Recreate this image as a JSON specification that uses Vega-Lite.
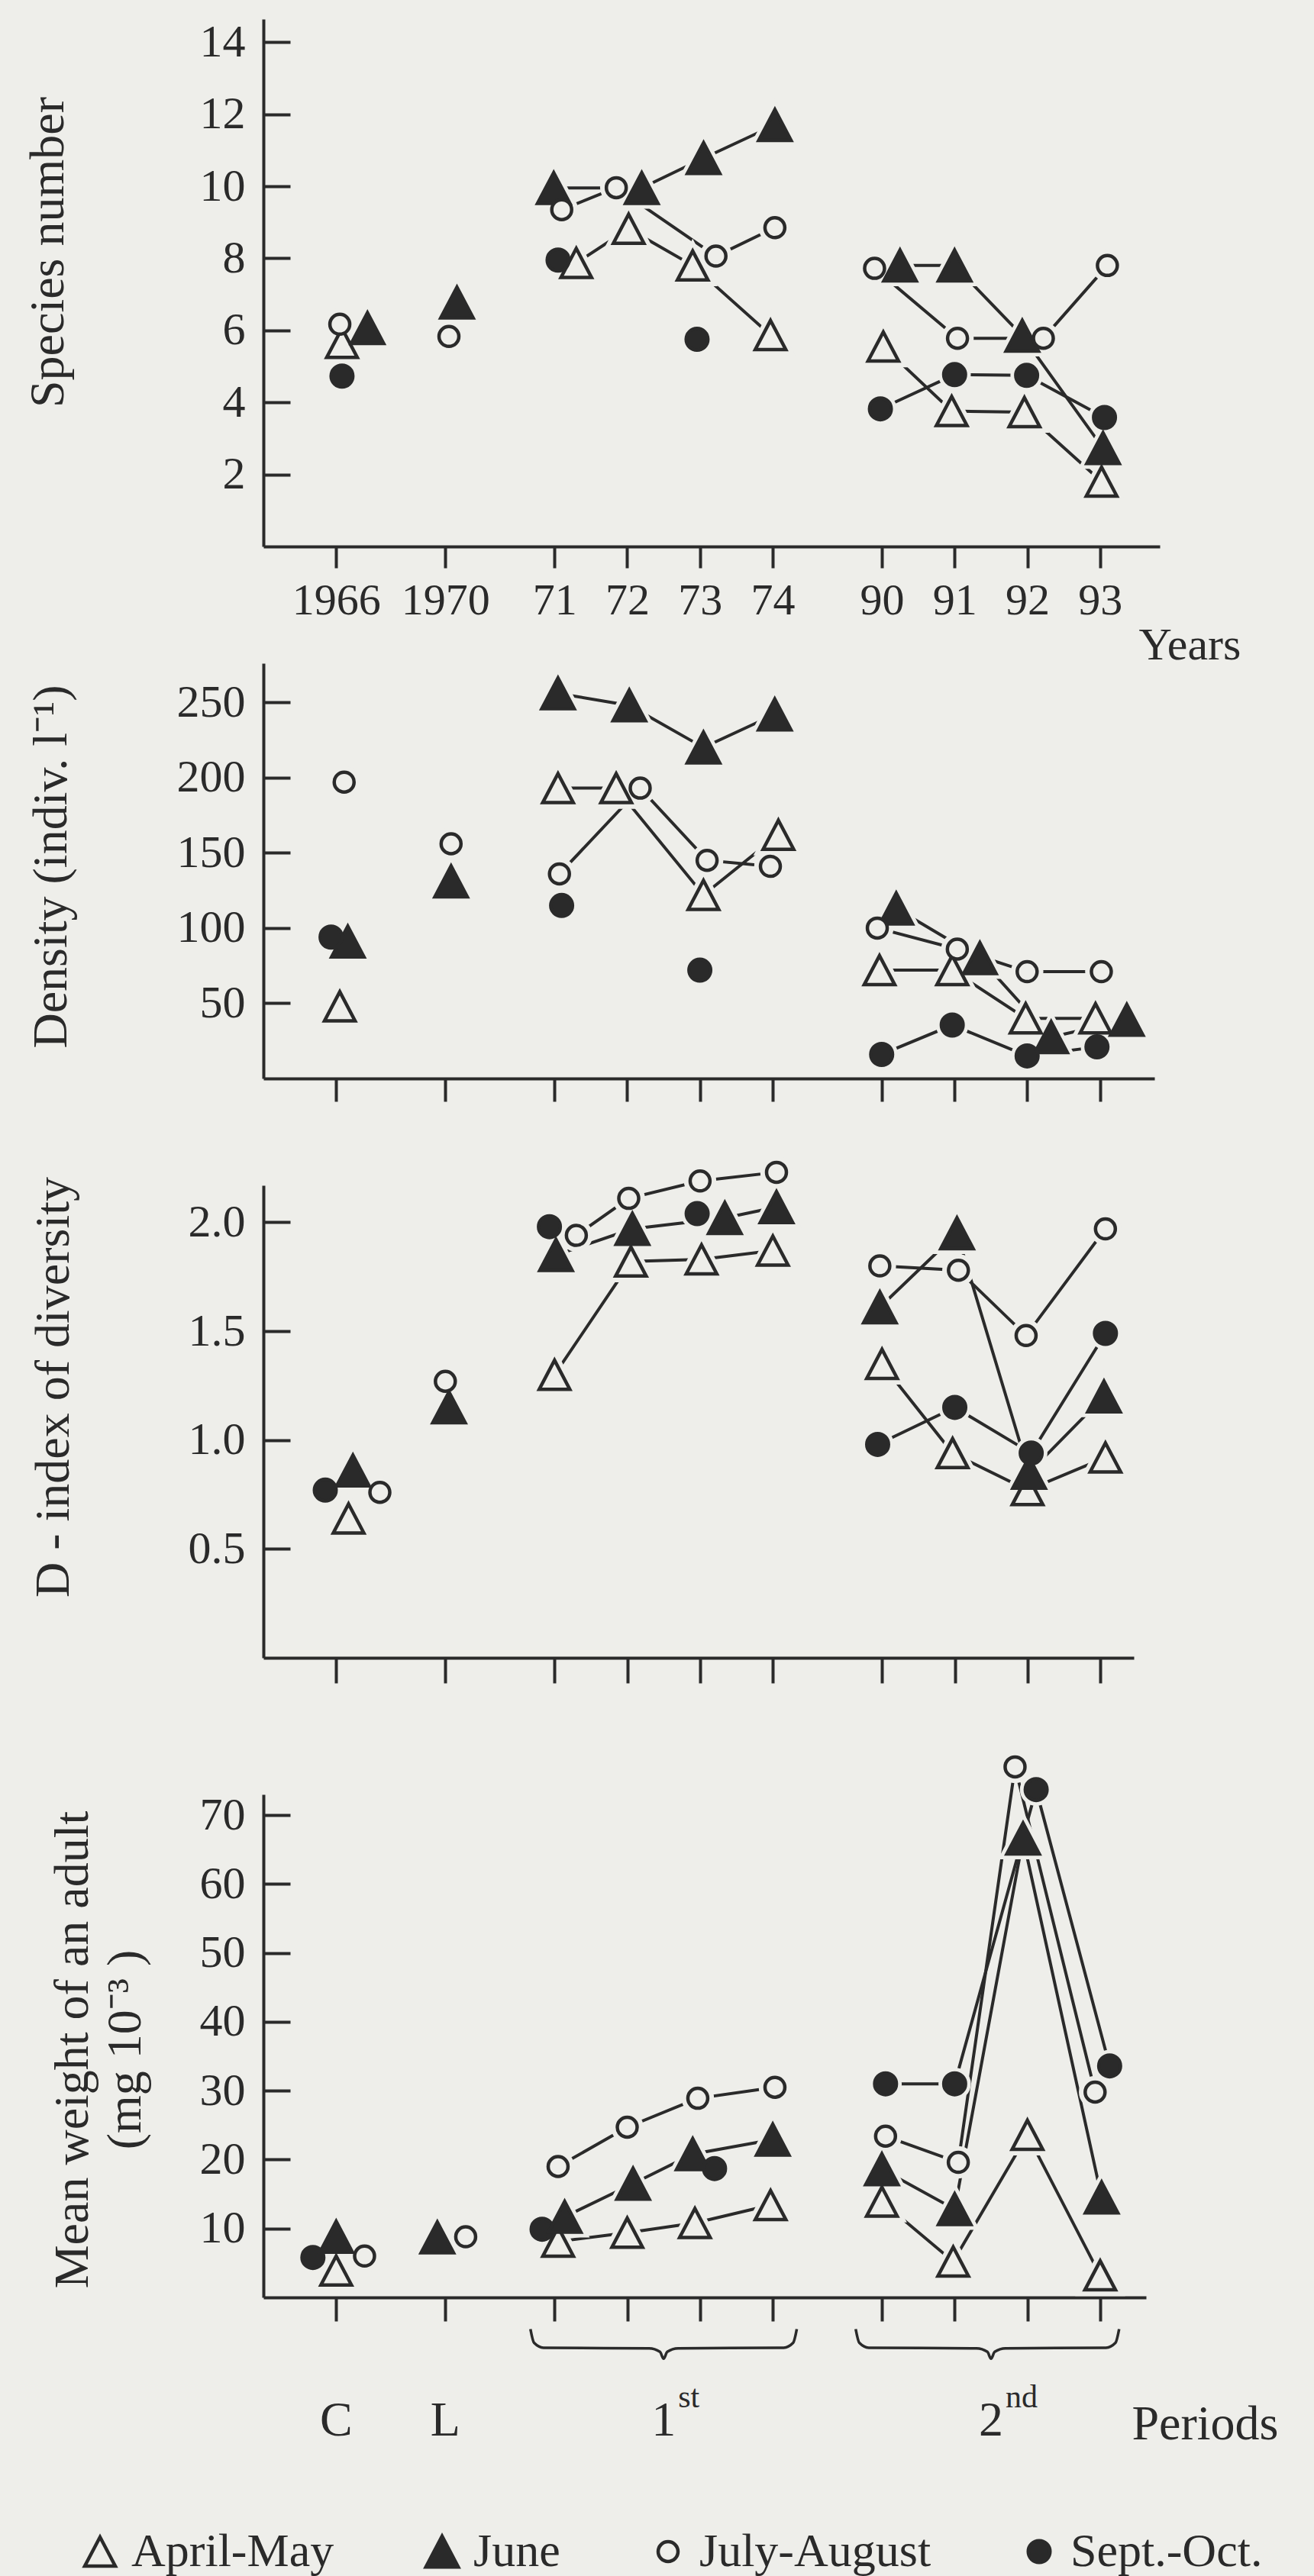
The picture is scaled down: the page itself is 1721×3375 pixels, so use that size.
{
  "$schema": "https://vega.github.io/schema/vega-lite/v6.json",
  "width": 1721,
  "height": 3375,
  "autosize": "none",
  "padding": 0,
  "background": "#eeeeea",
  "config": {
    "view": {"stroke": null},
    "font": "Liberation Serif",
    "axis": {
      "grid": false, "domainColor": "#2a2a2a", "domainWidth": 4, "tickColor": "#2a2a2a", "tickWidth": 4,
      "labelColor": "#2a2a2a", "labelFont": "Liberation Serif", "labelFontSize": 60,
      "titleFont": "Liberation Serif", "titleFontSize": 64, "titleFontWeight": "normal", "titleColor": "#2a2a2a",
      "labelOverlap": false, "labelFlush": false, "labelBound": false, "titleLimit": 0, "labelLimit": 0, "zindex": 1
    },
    "legend": {
      "labelFont": "Liberation Serif", "labelFontSize": 62, "labelColor": "#2a2a2a", "labelLimit": 0,
      "symbolStrokeColor": "#2a2a2a", "symbolStrokeWidth": 4.5, "labelOffset": 10, "columnPadding": 110, "padding": 0, "offset": 0
    }
  },
  "data": {"values": [
    {"k":1,"s":"April-May","g":"C","p":1.08,"v":5.65},
    {"k":1,"s":"June","g":"C","p":1.43,"v":6.06},
    {"k":1,"s":"July-August","g":"C","p":1.05,"v":6.17},
    {"k":1,"s":"Sept.-Oct.","g":"C","p":1.08,"v":4.73},
    {"k":1,"s":"June","g":"L","p":2.66,"v":6.77},
    {"k":1,"s":"July-August","g":"L","p":2.55,"v":5.83},
    {"k":1,"s":"April-May","g":"1","p":4.3,"v":7.87},
    {"k":1,"s":"June","g":"1","p":3.99,"v":9.95},
    {"k":1,"s":"July-August","g":"1","p":4.1,"v":9.35},
    {"k":1,"s":"Sept.-Oct.","g":"1a","p":4.05,"v":7.95},
    {"k":1,"s":"April-May","g":"1","p":5.02,"v":8.82},
    {"k":1,"s":"June","g":"1","p":5.2,"v":9.95},
    {"k":1,"s":"July-August","g":"1","p":4.85,"v":9.96},
    {"k":1,"s":"April-May","g":"1","p":5.9,"v":7.8},
    {"k":1,"s":"June","g":"1","p":6.05,"v":10.78},
    {"k":1,"s":"July-August","g":"1","p":6.22,"v":8.06},
    {"k":1,"s":"Sept.-Oct.","g":"1b","p":5.96,"v":5.75},
    {"k":1,"s":"April-May","g":"1","p":6.97,"v":5.87},
    {"k":1,"s":"June","g":"1","p":7.03,"v":11.7},
    {"k":1,"s":"July-August","g":"1","p":7.03,"v":8.85},
    {"k":1,"s":"April-May","g":"2","p":8.52,"v":5.55},
    {"k":1,"s":"June","g":"2","p":8.75,"v":7.8},
    {"k":1,"s":"July-August","g":"2","p":8.4,"v":7.72},
    {"k":1,"s":"Sept.-Oct.","g":"2","p":8.48,"v":3.82},
    {"k":1,"s":"April-May","g":"2","p":9.46,"v":3.76},
    {"k":1,"s":"June","g":"2","p":9.5,"v":7.8},
    {"k":1,"s":"July-August","g":"2","p":9.54,"v":5.78},
    {"k":1,"s":"Sept.-Oct.","g":"2","p":9.5,"v":4.77},
    {"k":1,"s":"April-May","g":"2","p":10.46,"v":3.73},
    {"k":1,"s":"June","g":"2","p":10.43,"v":5.85},
    {"k":1,"s":"July-August","g":"2","p":10.72,"v":5.78},
    {"k":1,"s":"Sept.-Oct.","g":"2","p":10.49,"v":4.75},
    {"k":1,"s":"April-May","g":"2","p":11.52,"v":1.8},
    {"k":1,"s":"June","g":"2","p":11.54,"v":2.73},
    {"k":1,"s":"July-August","g":"2","p":11.6,"v":7.8},
    {"k":1,"s":"Sept.-Oct.","g":"2","p":11.56,"v":3.58},

    {"k":2,"s":"April-May","g":"C","p":1.05,"v":48},
    {"k":2,"s":"June","g":"C","p":1.16,"v":91},
    {"k":2,"s":"July-August","g":"C","p":1.11,"v":197},
    {"k":2,"s":"Sept.-Oct.","g":"C","p":0.93,"v":94},
    {"k":2,"s":"June","g":"L","p":2.58,"v":131},
    {"k":2,"s":"July-August","g":"L","p":2.58,"v":156},
    {"k":2,"s":"April-May","g":"1","p":4.05,"v":193},
    {"k":2,"s":"June","g":"1","p":4.05,"v":256},
    {"k":2,"s":"July-August","g":"1","p":4.07,"v":136},
    {"k":2,"s":"Sept.-Oct.","g":"1a","p":4.1,"v":115},
    {"k":2,"s":"April-May","g":"1","p":4.85,"v":193},
    {"k":2,"s":"June","g":"1","p":5.03,"v":248},
    {"k":2,"s":"July-August","g":"1","p":5.18,"v":193},
    {"k":2,"s":"April-May","g":"1","p":6.05,"v":122},
    {"k":2,"s":"June","g":"1","p":6.05,"v":220},
    {"k":2,"s":"July-August","g":"1","p":6.1,"v":145},
    {"k":2,"s":"Sept.-Oct.","g":"1b","p":6.0,"v":72},
    {"k":2,"s":"April-May","g":"1","p":7.08,"v":162},
    {"k":2,"s":"June","g":"1","p":7.03,"v":242},
    {"k":2,"s":"July-August","g":"1","p":6.97,"v":141},
    {"k":2,"s":"April-May","g":"2","p":8.47,"v":72},
    {"k":2,"s":"June","g":"2","p":8.7,"v":113},
    {"k":2,"s":"July-August","g":"2","p":8.44,"v":100},
    {"k":2,"s":"Sept.-Oct.","g":"2","p":8.5,"v":16},
    {"k":2,"s":"April-May","g":"2","p":9.47,"v":72},
    {"k":2,"s":"June","g":"2","p":9.85,"v":80},
    {"k":2,"s":"July-August","g":"2","p":9.54,"v":86},
    {"k":2,"s":"Sept.-Oct.","g":"2","p":9.47,"v":35.5},
    {"k":2,"s":"April-May","g":"2","p":10.48,"v":40},
    {"k":2,"s":"June","g":"2","p":10.83,"v":27.5},
    {"k":2,"s":"July-August","g":"2","p":10.5,"v":71},
    {"k":2,"s":"Sept.-Oct.","g":"2","p":10.5,"v":15},
    {"k":2,"s":"April-May","g":"2","p":11.44,"v":40},
    {"k":2,"s":"June","g":"2","p":11.87,"v":39},
    {"k":2,"s":"July-August","g":"2","p":11.52,"v":71},
    {"k":2,"s":"Sept.-Oct.","g":"2","p":11.46,"v":21},

    {"k":3,"s":"April-May","g":"C","p":1.17,"v":0.64},
    {"k":3,"s":"June","g":"C","p":1.23,"v":0.86},
    {"k":3,"s":"July-August","g":"C","p":1.6,"v":0.76},
    {"k":3,"s":"Sept.-Oct.","g":"C","p":0.85,"v":0.77},
    {"k":3,"s":"June","g":"L","p":2.55,"v":1.15},
    {"k":3,"s":"July-August","g":"L","p":2.5,"v":1.27},
    {"k":3,"s":"April-May","g":"1","p":4.0,"v":1.3},
    {"k":3,"s":"June","g":"1","p":4.02,"v":1.85},
    {"k":3,"s":"July-August","g":"1","p":4.3,"v":1.94},
    {"k":3,"s":"Sept.-Oct.","g":"1a","p":3.93,"v":1.98},
    {"k":3,"s":"April-May","g":"1","p":5.05,"v":1.82},
    {"k":3,"s":"June","g":"1","p":5.07,"v":1.97},
    {"k":3,"s":"July-August","g":"1","p":5.02,"v":2.11},
    {"k":3,"s":"April-May","g":"1","p":6.02,"v":1.83},
    {"k":3,"s":"June","g":"1","p":6.34,"v":2.02},
    {"k":3,"s":"July-August","g":"1","p":6.0,"v":2.19},
    {"k":3,"s":"Sept.-Oct.","g":"1b","p":5.96,"v":2.04},
    {"k":3,"s":"April-May","g":"1","p":7.0,"v":1.87},
    {"k":3,"s":"June","g":"1","p":7.05,"v":2.07},
    {"k":3,"s":"July-August","g":"1","p":7.05,"v":2.23},
    {"k":3,"s":"April-May","g":"2","p":8.5,"v":1.35},
    {"k":3,"s":"June","g":"2","p":8.47,"v":1.61},
    {"k":3,"s":"July-August","g":"2","p":8.47,"v":1.8},
    {"k":3,"s":"Sept.-Oct.","g":"2","p":8.44,"v":0.98},
    {"k":3,"s":"April-May","g":"2","p":9.47,"v":0.94},
    {"k":3,"s":"June","g":"2","p":9.53,"v":1.95},
    {"k":3,"s":"July-August","g":"2","p":9.55,"v":1.78},
    {"k":3,"s":"Sept.-Oct.","g":"2","p":9.5,"v":1.15},
    {"k":3,"s":"April-May","g":"2","p":10.5,"v":0.77},
    {"k":3,"s":"June","g":"2","p":10.52,"v":0.85},
    {"k":3,"s":"July-August","g":"2","p":10.48,"v":1.48},
    {"k":3,"s":"Sept.-Oct.","g":"2","p":10.55,"v":0.94},
    {"k":3,"s":"April-May","g":"2","p":11.57,"v":0.92},
    {"k":3,"s":"June","g":"2","p":11.55,"v":1.2},
    {"k":3,"s":"July-August","g":"2","p":11.57,"v":1.97},
    {"k":3,"s":"Sept.-Oct.","g":"2","p":11.57,"v":1.49},

    {"k":4,"s":"Sept.-Oct.","g":"C","p":0.68,"v":5.8},
    {"k":4,"s":"June","g":"C","p":1.0,"v":8.8},
    {"k":4,"s":"April-May","g":"C","p":1.0,"v":3.9},
    {"k":4,"s":"July-August","g":"C","p":1.39,"v":6.0},
    {"k":4,"s":"June","g":"L","p":2.39,"v":8.7},
    {"k":4,"s":"July-August","g":"L","p":2.78,"v":8.8},
    {"k":4,"s":"Sept.-Oct.","g":"1a","p":3.83,"v":9.9},
    {"k":4,"s":"April-May","g":"1","p":4.05,"v":8.1},
    {"k":4,"s":"June","g":"1","p":4.14,"v":11.7},
    {"k":4,"s":"July-August","g":"1","p":4.05,"v":19},
    {"k":4,"s":"July-August","g":"1","p":5.0,"v":24.7},
    {"k":4,"s":"June","g":"1","p":5.08,"v":16.5},
    {"k":4,"s":"April-May","g":"1","p":5.0,"v":9.4},
    {"k":4,"s":"July-August","g":"1","p":5.97,"v":28.9},
    {"k":4,"s":"June","g":"1","p":5.9,"v":20.8},
    {"k":4,"s":"Sept.-Oct.","g":"1b","p":6.2,"v":18.7},
    {"k":4,"s":"April-May","g":"1","p":5.93,"v":10.8},
    {"k":4,"s":"July-August","g":"1","p":7.03,"v":30.5},
    {"k":4,"s":"June","g":"1","p":7.0,"v":22.9},
    {"k":4,"s":"April-May","g":"1","p":6.97,"v":13.4},
    {"k":4,"s":"Sept.-Oct.","g":"2","p":8.55,"v":31},
    {"k":4,"s":"July-August","g":"2","p":8.55,"v":23.4},
    {"k":4,"s":"June","g":"2","p":8.5,"v":18.6},
    {"k":4,"s":"April-May","g":"2","p":8.5,"v":13.9},
    {"k":4,"s":"Sept.-Oct.","g":"2","p":9.5,"v":31},
    {"k":4,"s":"July-August","g":"2","p":9.55,"v":19.6},
    {"k":4,"s":"June","g":"2","p":9.5,"v":12.8},
    {"k":4,"s":"April-May","g":"2","p":9.48,"v":5.2},
    {"k":4,"s":"July-August","g":"2","p":10.33,"v":77},
    {"k":4,"s":"Sept.-Oct.","g":"2","p":10.62,"v":73.7},
    {"k":4,"s":"June","g":"2","p":10.44,"v":66.6},
    {"k":4,"s":"April-May","g":"2","p":10.5,"v":23.6},
    {"k":4,"s":"Sept.-Oct.","g":"2","p":11.63,"v":33.6},
    {"k":4,"s":"July-August","g":"2","p":11.43,"v":29.8},
    {"k":4,"s":"June","g":"2","p":11.52,"v":14.5},
    {"k":4,"s":"April-May","g":"2","p":11.5,"v":3.2}
  ]},
  "resolve": {"scale": {"x": "independent", "y": "independent"}, "axis": {"x": "independent", "y": "independent"}},
  "layer": [
    {
      "transform": [{"filter": "datum.k == 1"}],
      "encoding": {
        "x": {"field": "p", "type": "quantitative",
          "scale": {"domain": [0, 12.32], "range": [345, 1519], "nice": false, "zero": false},
          "axis": {"orient": "bottom", "offset": -2659, "values": [1, 2.5, 4, 5, 6, 7, 8.5, 9.5, 10.5, 11.5],
            "labelExpr": "datum.value==1?'1966':datum.value==2.5?'1970':datum.value==4?'71':datum.value==5?'72':datum.value==6?'73':datum.value==7?'74':datum.value==8.5?'90':datum.value==9.5?'91':datum.value==10.5?'92':'93'",
            "tickSize": 28, "labelPadding": 14, "labelFontSize": 58,
            "title": "Years", "titleX": 1491, "titleY": 147, "titleAlign": "left", "titleBaseline": "alphabetic", "titleAngle": 0, "titleFontSize": 60}},
        "y": {"field": "v", "type": "quantitative",
          "scale": {"domain": [0, 14.64], "range": [716, 25], "nice": false, "zero": false},
          "axis": {"orient": "left", "offset": -345, "values": [2, 4, 6, 8, 10, 12, 14], "tickSize": -35, "labelPadding": 59,
            "title": "Species number", "titleX": -263, "titleY": 330, "titleAngle": 270, "titleAlign": "center", "titleBaseline": "alphabetic"}}
      },
      "layer": [
        {"mark": {"type": "line", "stroke": "#2a2a2a", "strokeWidth": 4}, "encoding": {"detail": [{"field": "s"}, {"field": "g"}]}},
        {"transform": [{"filter": "datum.s == 'April-May' || datum.s == 'June'"}],
         "mark": {"type": "point", "shape": "M0,-0.95L1,0.95L-1,0.95Z", "size": 1800, "filled": true, "fill": "#eeeeea", "stroke": "#eeeeea", "strokeWidth": 14, "opacity": 1}},
        {"transform": [{"filter": "datum.s == 'July-August' || datum.s == 'Sept.-Oct.'"}],
         "mark": {"type": "point", "shape": "circle", "size": 812, "filled": true, "fill": "#eeeeea", "stroke": "#eeeeea", "strokeWidth": 14, "opacity": 1}},
        {"mark": {"type": "point", "strokeWidth": 4.5, "opacity": 1, "fillOpacity": 1, "strokeOpacity": 1},
         "encoding": {
           "shape": {"field": "s", "type": "nominal", "title": null, "legend": {"orient": "none", "legendX": 100, "legendY": 3312, "direction": "horizontal", "columns": 4}, "scale": {"domain": ["April-May", "June", "July-August", "Sept.-Oct."], "range": ["M0,-0.95L1,0.95L-1,0.95Z", "M0,-0.95L1,0.95L-1,0.95Z", "circle", "circle"]}},
           "size": {"field": "s", "type": "nominal", "title": null, "legend": {"orient": "none", "legendX": 100, "legendY": 3312, "direction": "horizontal", "columns": 4}, "scale": {"type": "ordinal", "domain": ["April-May", "June", "July-August", "Sept.-Oct."], "range": [1600, 1800, 676, 812]}},
           "fill": {"field": "s", "type": "nominal", "title": null, "legend": {"orient": "none", "legendX": 100, "legendY": 3312, "direction": "horizontal", "columns": 4}, "scale": {"domain": ["April-May", "June", "July-August", "Sept.-Oct."], "range": ["#eeeeea", "#2a2a2a", "#eeeeea", "#2a2a2a"]}},
           "stroke": {"field": "s", "type": "nominal", "title": null, "legend": {"orient": "none", "legendX": 100, "legendY": 3312, "direction": "horizontal", "columns": 4}, "scale": {"domain": ["April-May", "June", "July-August", "Sept.-Oct."], "range": ["#2a2a2a", "#2a2a2a", "#2a2a2a", "#2a2a2a"]}}}}
      ]
    },
    {
      "transform": [{"filter": "datum.k == 2"}],
      "encoding": {
        "x": {"field": "p", "type": "quantitative",
          "scale": {"domain": [0, 12.25], "range": [345, 1512], "nice": false, "zero": false},
          "axis": {"orient": "bottom", "offset": -1962, "values": [1, 2.5, 4, 5, 6, 7, 8.5, 9.5, 10.5, 11.5], "labels": false, "tickSize": 30, "title": null}},
        "y": {"field": "v", "type": "quantitative",
          "scale": {"domain": [0, 276], "range": [1413, 869], "nice": false, "zero": false},
          "axis": {"orient": "left", "offset": -345, "values": [50, 100, 150, 200, 250], "tickSize": -35, "labelPadding": 59,
            "title": "Density (indiv. l⁻¹)", "titleX": -259, "titleY": 1135, "titleAngle": 270, "titleAlign": "center", "titleBaseline": "alphabetic"}}
      },
      "layer": [
        {"mark": {"type": "line", "stroke": "#2a2a2a", "strokeWidth": 4}, "encoding": {"detail": [{"field": "s"}, {"field": "g"}]}},
        {"transform": [{"filter": "datum.s == 'April-May' || datum.s == 'June'"}],
         "mark": {"type": "point", "shape": "M0,-0.95L1,0.95L-1,0.95Z", "size": 1800, "filled": true, "fill": "#eeeeea", "stroke": "#eeeeea", "strokeWidth": 14, "opacity": 1}},
        {"transform": [{"filter": "datum.s == 'July-August' || datum.s == 'Sept.-Oct.'"}],
         "mark": {"type": "point", "shape": "circle", "size": 812, "filled": true, "fill": "#eeeeea", "stroke": "#eeeeea", "strokeWidth": 14, "opacity": 1}},
        {"mark": {"type": "point", "strokeWidth": 4.5, "opacity": 1, "fillOpacity": 1, "strokeOpacity": 1},
         "encoding": {
           "shape": {"field": "s", "type": "nominal", "title": null, "legend": {"orient": "none", "legendX": 100, "legendY": 3312, "direction": "horizontal", "columns": 4}, "scale": {"domain": ["April-May", "June", "July-August", "Sept.-Oct."], "range": ["M0,-0.95L1,0.95L-1,0.95Z", "M0,-0.95L1,0.95L-1,0.95Z", "circle", "circle"]}},
           "size": {"field": "s", "type": "nominal", "title": null, "legend": {"orient": "none", "legendX": 100, "legendY": 3312, "direction": "horizontal", "columns": 4}, "scale": {"type": "ordinal", "domain": ["April-May", "June", "July-August", "Sept.-Oct."], "range": [1600, 1800, 676, 812]}},
           "fill": {"field": "s", "type": "nominal", "title": null, "legend": {"orient": "none", "legendX": 100, "legendY": 3312, "direction": "horizontal", "columns": 4}, "scale": {"domain": ["April-May", "June", "July-August", "Sept.-Oct."], "range": ["#eeeeea", "#2a2a2a", "#eeeeea", "#2a2a2a"]}},
           "stroke": {"field": "s", "type": "nominal", "title": null, "legend": {"orient": "none", "legendX": 100, "legendY": 3312, "direction": "horizontal", "columns": 4}, "scale": {"domain": ["April-May", "June", "July-August", "Sept.-Oct."], "range": ["#2a2a2a", "#2a2a2a", "#2a2a2a", "#2a2a2a"]}}}}
      ]
    },
    {
      "transform": [{"filter": "datum.k == 3"}],
      "encoding": {
        "x": {"field": "p", "type": "quantitative",
          "scale": {"domain": [0, 11.96], "range": [345, 1485], "nice": false, "zero": false},
          "axis": {"orient": "bottom", "offset": -1203, "values": [1, 2.5, 4, 5, 6, 7, 8.5, 9.5, 10.5, 11.5], "labels": false, "tickSize": 33, "title": null}},
        "y": {"field": "v", "type": "quantitative",
          "scale": {"domain": [0, 2.17], "range": [2172, 1553], "nice": false, "zero": false},
          "axis": {"orient": "left", "offset": -345, "values": [0.5, 1, 1.5, 2], "format": ".1f", "tickSize": -35, "labelPadding": 59,
            "title": "D - index of diversity", "titleX": -256, "titleY": 1817, "titleAngle": 270, "titleAlign": "center", "titleBaseline": "alphabetic"}}
      },
      "layer": [
        {"mark": {"type": "line", "stroke": "#2a2a2a", "strokeWidth": 4}, "encoding": {"detail": [{"field": "s"}, {"field": "g"}]}},
        {"transform": [{"filter": "datum.s == 'April-May' || datum.s == 'June'"}],
         "mark": {"type": "point", "shape": "M0,-0.95L1,0.95L-1,0.95Z", "size": 1800, "filled": true, "fill": "#eeeeea", "stroke": "#eeeeea", "strokeWidth": 14, "opacity": 1}},
        {"transform": [{"filter": "datum.s == 'July-August' || datum.s == 'Sept.-Oct.'"}],
         "mark": {"type": "point", "shape": "circle", "size": 812, "filled": true, "fill": "#eeeeea", "stroke": "#eeeeea", "strokeWidth": 14, "opacity": 1}},
        {"mark": {"type": "point", "strokeWidth": 4.5, "opacity": 1, "fillOpacity": 1, "strokeOpacity": 1},
         "encoding": {
           "shape": {"field": "s", "type": "nominal", "title": null, "legend": {"orient": "none", "legendX": 100, "legendY": 3312, "direction": "horizontal", "columns": 4}, "scale": {"domain": ["April-May", "June", "July-August", "Sept.-Oct."], "range": ["M0,-0.95L1,0.95L-1,0.95Z", "M0,-0.95L1,0.95L-1,0.95Z", "circle", "circle"]}},
           "size": {"field": "s", "type": "nominal", "title": null, "legend": {"orient": "none", "legendX": 100, "legendY": 3312, "direction": "horizontal", "columns": 4}, "scale": {"type": "ordinal", "domain": ["April-May", "June", "July-August", "Sept.-Oct."], "range": [1600, 1800, 676, 812]}},
           "fill": {"field": "s", "type": "nominal", "title": null, "legend": {"orient": "none", "legendX": 100, "legendY": 3312, "direction": "horizontal", "columns": 4}, "scale": {"domain": ["April-May", "June", "July-August", "Sept.-Oct."], "range": ["#eeeeea", "#2a2a2a", "#eeeeea", "#2a2a2a"]}},
           "stroke": {"field": "s", "type": "nominal", "title": null, "legend": {"orient": "none", "legendX": 100, "legendY": 3312, "direction": "horizontal", "columns": 4}, "scale": {"domain": ["April-May", "June", "July-August", "Sept.-Oct."], "range": ["#2a2a2a", "#2a2a2a", "#2a2a2a", "#2a2a2a"]}}}}
      ]
    },
    {
      "encoding": {
        "x": {"field": "p", "type": "quantitative",
          "scale": {"domain": [0, 12.13], "range": [345, 1501], "nice": false, "zero": false},
          "axis": {"orient": "bottom", "offset": -365, "values": [1, 2.5, 4, 5, 6, 7, 8.5, 9.5, 10.5, 11.5], "labels": false, "tickSize": 31,
            "title": "Periods", "titleX": 1482, "titleY": 185, "titleAlign": "left", "titleBaseline": "alphabetic", "titleAngle": 0}},
        "y": {"field": "v", "type": "quantitative",
          "scale": {"domain": [0, 73], "range": [3010, 2351], "nice": false, "zero": false},
          "axis": {"orient": "left", "offset": -345, "values": [10, 20, 30, 40, 50, 60, 70], "tickSize": -35, "labelPadding": 59,
            "title": ["Mean weight of an adult", "(mg 10⁻³ )"], "titleLineHeight": 69, "titleX": -231, "titleY": 2685, "titleAngle": 270, "titleAlign": "center", "titleBaseline": "alphabetic"}}
      },
      "layer": [
        {"transform": [{"filter": "datum.k == 4"}], "mark": {"type": "line", "stroke": "#2a2a2a", "strokeWidth": 4}, "encoding": {"detail": [{"field": "s"}, {"field": "g"}]}},
        {"transform": [{"filter": "datum.k == 4 && (datum.s == 'April-May' || datum.s == 'June')"}],
         "mark": {"type": "point", "shape": "M0,-0.95L1,0.95L-1,0.95Z", "size": 1800, "filled": true, "fill": "#eeeeea", "stroke": "#eeeeea", "strokeWidth": 14, "opacity": 1}},
        {"transform": [{"filter": "datum.k == 4 && (datum.s == 'July-August' || datum.s == 'Sept.-Oct.')"}],
         "mark": {"type": "point", "shape": "circle", "size": 812, "filled": true, "fill": "#eeeeea", "stroke": "#eeeeea", "strokeWidth": 14, "opacity": 1}},
        {"transform": [{"filter": "datum.k == 4"}], "mark": {"type": "point", "strokeWidth": 4.5, "opacity": 1, "fillOpacity": 1, "strokeOpacity": 1},
         "encoding": {
           "shape": {"field": "s", "type": "nominal", "title": null, "legend": {"orient": "none", "legendX": 100, "legendY": 3312, "direction": "horizontal", "columns": 4}, "scale": {"domain": ["April-May", "June", "July-August", "Sept.-Oct."], "range": ["M0,-0.95L1,0.95L-1,0.95Z", "M0,-0.95L1,0.95L-1,0.95Z", "circle", "circle"]}},
           "size": {"field": "s", "type": "nominal", "title": null, "legend": {"orient": "none", "legendX": 100, "legendY": 3312, "direction": "horizontal", "columns": 4}, "scale": {"type": "ordinal", "domain": ["April-May", "June", "July-August", "Sept.-Oct."], "range": [1600, 1800, 676, 812]}},
           "fill": {"field": "s", "type": "nominal", "title": null, "legend": {"orient": "none", "legendX": 100, "legendY": 3312, "direction": "horizontal", "columns": 4}, "scale": {"domain": ["April-May", "June", "July-August", "Sept.-Oct."], "range": ["#eeeeea", "#2a2a2a", "#eeeeea", "#2a2a2a"]}},
           "stroke": {"field": "s", "type": "nominal", "title": null, "legend": {"orient": "none", "legendX": 100, "legendY": 3312, "direction": "horizontal", "columns": 4}, "scale": {"domain": ["April-May", "June", "July-August", "Sept.-Oct."], "range": ["#2a2a2a", "#2a2a2a", "#2a2a2a", "#2a2a2a"]}}}},
        {"data": {"values": [
            {"b":"1st","p":3.67,"v":-4.6},{"b":"1st","p":3.72,"v":-6.6},{"b":"1st","p":3.85,"v":-7.3},{"b":"1st","p":5.3,"v":-7.4},{"b":"1st","p":5.45,"v":-7.9},{"b":"1st","p":5.5,"v":-8.9},{"b":"1st","p":5.55,"v":-7.9},{"b":"1st","p":5.7,"v":-7.4},{"b":"1st","p":7.15,"v":-7.3},{"b":"1st","p":7.28,"v":-6.6},{"b":"1st","p":7.33,"v":-4.6},
            {"b":"2nd","p":8.14,"v":-4.6},{"b":"2nd","p":8.19,"v":-6.6},{"b":"2nd","p":8.32,"v":-7.3},{"b":"2nd","p":9.8,"v":-7.4},{"b":"2nd","p":9.95,"v":-7.9},{"b":"2nd","p":10.0,"v":-8.9},{"b":"2nd","p":10.05,"v":-7.9},{"b":"2nd","p":10.2,"v":-7.4},{"b":"2nd","p":11.58,"v":-7.3},{"b":"2nd","p":11.71,"v":-6.6},{"b":"2nd","p":11.76,"v":-4.6}
          ]},
         "mark": {"type": "line", "interpolate": "monotone", "stroke": "#2a2a2a", "strokeWidth": 3.5},
         "encoding": {"detail": {"field": "b"}}},
        {"data": {"values": [{"p":1,"v":-20,"m":"C"},{"p":2.5,"v":-20,"m":"L"},{"p":5.5,"v":-20,"m":"1"},{"p":10,"v":-20,"m":"2"}]},
         "mark": {"type": "text", "font": "Liberation Serif", "fontSize": 64, "fill": "#2a2a2a", "align": "center", "baseline": "alphabetic"},
         "encoding": {"text": {"field": "m"}}},
        {"data": {"values": [{"p":5.5,"v":-16,"m":"st"},{"p":10,"v":-16,"m":"nd"}]},
         "mark": {"type": "text", "font": "Liberation Serif", "fontSize": 42, "fill": "#2a2a2a", "align": "left", "baseline": "alphabetic", "dx": 19},
         "encoding": {"text": {"field": "m"}}}
      ]
    }
  ]
}
